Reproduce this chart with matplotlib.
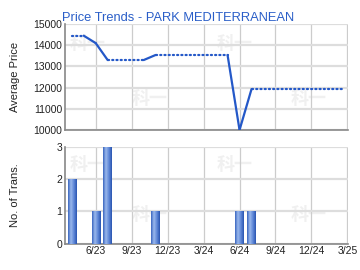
import numpy as np
import matplotlib
matplotlib.use('Agg')
import matplotlib.pyplot as plt
from matplotlib.colors import LinearSegmentedColormap

plt.rcParams['font.family'] = ['Liberation Sans', 'DejaVu Sans']

# months counted from Jan 2023 (0 = 1/23)
price_months = [3, 4, 5, 6, 9, 10, 16, 17, 18, 25.7]
price_values = [14450, 14450, 14100, 13300, 13300, 13540, 13540, 10000, 11930, 11930]
# segment style between consecutive points: True = solid, False = dotted
seg_solid = [False, True, True, False, True, False, True, True, False]

bar_months = [3, 5, 6, 10, 17, 18]
bar_counts = [2, 1, 3, 1, 1, 1]

tick_months = [5, 8, 11, 14, 17, 20, 23, 26]
tick_labels = ['6/23', '9/23', '12/23', '3/24', '6/24', '9/24', '12/24', '3/25']

blue = '#2458c8'
fig = plt.figure(figsize=(3.6, 2.7), dpi=100)
ax1 = fig.add_axes([0.1806, 0.5185, 0.7861, 0.3925])
ax2 = fig.add_axes([0.1806, 0.0974, 0.7861, 0.3582])

xlim = (2.44, 26.05)

for ax in (ax1, ax2):
    ax.set_xlim(*xlim)
    ax.set_xticks(tick_months)
    ax.grid(True, axis='x', color='#cccccc', lw=0.9)
    ax.grid(True, axis='y', color='#dddddd', lw=1.6)
    ax.set_axisbelow(True)
    for s in ('top', 'right'):
        ax.spines[s].set_visible(False)
    for s in ('left', 'bottom'):
        ax.spines[s].set_color('#888888')
        ax.spines[s].set_linewidth(1.2)
    ax.tick_params(length=0, labelsize=7.5, colors='#222222', pad=2)
    # watermark
    for wx, wy in ((0.08, 0.82), (0.6, 0.82), (0.3, 0.3), (0.86, 0.3)):
        ax.text(wx, wy, '科一', transform=ax.transAxes, fontsize=13, color='#f0f0f0',
                family=['Noto Sans CJK SC'], fontweight='bold', ha='center', va='center', zorder=0)

# price line
for i in range(len(price_months) - 1):
    xs = price_months[i:i + 2]
    ys = price_values[i:i + 2]
    if seg_solid[i]:
        ax1.plot(xs, ys, color=blue, lw=1.6, solid_capstyle='round', zorder=3)
    else:
        ax1.plot(xs, ys, color=blue, lw=1.6, ls=(0, (0.5, 1.4)), dash_capstyle='round', zorder=3)

ax1.set_ylim(10000, 15000)
ax1.set_yticks(range(10000, 15001, 1000))
ax1.tick_params(axis='x', labelbottom=False)
ax1.set_ylabel('Average Price', fontsize=8, color='#222222')
ax1.yaxis.set_label_coords(-0.16, 0.5)
ax1.set_title('Price Trends - PARK MEDITERRANEAN', fontsize=9.3, color='#2a5ec8',
              loc='left', x=-0.01, pad=1)

# bars with gradient
cmap = LinearSegmentedColormap.from_list('bar', ['#3a66c0', '#9ab8ec', '#5f88d8', '#2a55b0'])
bars = ax2.bar(bar_months, bar_counts, width=0.7, color='none', zorder=3)
grad = np.linspace(0, 1, 64).reshape(1, -1)
for b in bars:
    x0, w, h = b.get_x(), b.get_width(), b.get_height()
    ax2.imshow(grad, cmap=cmap, aspect='auto', extent=(x0, x0 + w, 0, h), zorder=3)
ax2.set_xlim(*xlim)
ax2.set_ylim(0, 3)
ax2.set_yticks([0, 1, 2, 3])
ax2.set_xticklabels(tick_labels)
ax2.set_ylabel('No. of Trans.', fontsize=8, color='#222222')
ax2.yaxis.set_label_coords(-0.16, 0.5)

fig.savefig('out.png', dpi=100)
